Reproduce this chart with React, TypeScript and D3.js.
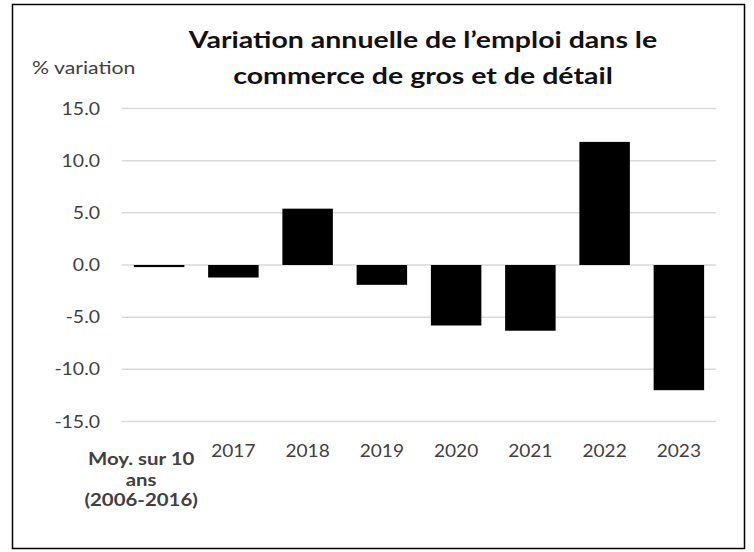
import React, { useEffect, useRef } from 'react';
import * as d3 from 'd3';

const categories = ['moy', '2017', '2018', '2019', '2020', '2021', '2022', '2023'];
const values = [-0.2, -1.2, 5.4, -1.9, -5.8, -6.3, 11.8, -12.0];
const yTicks = [15, 10, 5, 0, -5, -10, -15];
const avgLabel = ['Moy. sur 10', 'ans', '(2006-2016)'];
const titleLines = ['Variation annuelle de l’emploi dans le', 'commerce de gros et de détail'];

export default function App() {
  const svgRef = useRef<SVGSVGElement>(null);

  useEffect(() => {
    const svg = d3.select(svgRef.current);
    svg.selectAll('*').remove();
    const font = 'Lato, "Open Sans", sans-serif';
    // plain hyphen for negatives, like the source
    const fmt = (d: number) => d3.format('.1f')(d).replace('\u2212', '-');

    // outer frame
    svg
      .append('rect')
      .attr('x', 12.5)
      .attr('y', 4.5)
      .attr('width', 732)
      .attr('height', 544)
      .attr('fill', '#fff')
      .attr('stroke', '#000')
      .attr('stroke-width', 1.5);

    const x = d3
      .scaleBand()
      .domain(categories)
      .range([122, 716])
      .paddingInner(0.32)
      .paddingOuter(0.16);

    const y = d3.scaleLinear().domain([-15, 15]).range([421.5, 108.5]);

    // gridlines
    svg
      .append('g')
      .selectAll('line')
      .data(yTicks)
      .enter()
      .append('line')
      .attr('x1', 122)
      .attr('x2', 716)
      .attr('y1', (d) => y(d))
      .attr('y2', (d) => y(d))
      .attr('stroke', '#d9d9d9')
      .attr('stroke-width', 1.5);

    // y tick labels
    svg
      .append('g')
      .selectAll('text')
      .data(yTicks)
      .enter()
      .append('text')
      .attr('transform', (d) => `translate(100,${y(d) + 6}) scale(1.08,1)`)
      .attr('text-anchor', 'end')
      .attr('font-family', font)
      .attr('font-size', 18)
      .attr('fill', '#404040')
      .text((d) => fmt(d));

    // bars
    svg
      .append('g')
      .selectAll('rect')
      .data(values)
      .enter()
      .append('rect')
      .attr('x', (d, i) => x(categories[i])!)
      .attr('width', x.bandwidth())
      .attr('y', (d) => y(Math.max(0, d)))
      .attr('height', (d) => Math.abs(y(d) - y(0)))
      .attr('fill', '#000');

    // x labels (years)
    svg
      .append('g')
      .selectAll('text')
      .data(categories.slice(1))
      .enter()
      .append('text')
      .attr('transform', (d) => `translate(${x(d)! + x.bandwidth() / 2},457) scale(1.06,1)`)
      .attr('text-anchor', 'middle')
      .attr('font-family', font)
      .attr('font-size', 18)
      .attr('fill', '#404040')
      .text((d) => d);

    // first category label, wrapped
    const cx = x('moy')! + x.bandwidth() / 2 - 18;
    svg
      .append('g')
      .selectAll('text')
      .data(avgLabel)
      .enter()
      .append('text')
      .attr('transform', (d, i) => `translate(${cx},${465 + i * 20.5}) scale(1.2,1)`)
      .attr('text-anchor', 'middle')
      .attr('font-family', font)
      .attr('font-size', 17)
      .attr('font-weight', 'bold')
      .attr('fill', '#404040')
      .text((d) => d);

    // axis title
    svg
      .append('text')
      .attr('transform', 'translate(32,74) scale(1.18,1)')
      .attr('font-family', font)
      .attr('font-size', 18)
      .attr('fill', '#404040')
      .text('% variation');

    // chart title
    svg
      .append('g')
      .selectAll('text')
      .data(titleLines)
      .enter()
      .append('text')
      .attr('transform', (d, i) => `translate(423,${48 + i * 36}) scale(1.24,1)`)
      .attr('text-anchor', 'middle')
      .attr('font-family', font)
      .attr('font-size', 23)
      .attr('font-weight', 'bold')
      .attr('fill', '#111')
      .text((d) => d);
  }, []);

  return (
    <svg
      ref={svgRef}
      width={754}
      height={552}
      style={{ position: 'absolute', left: 0, top: 0, background: '#fff' }}
    ></svg>
  );
}
